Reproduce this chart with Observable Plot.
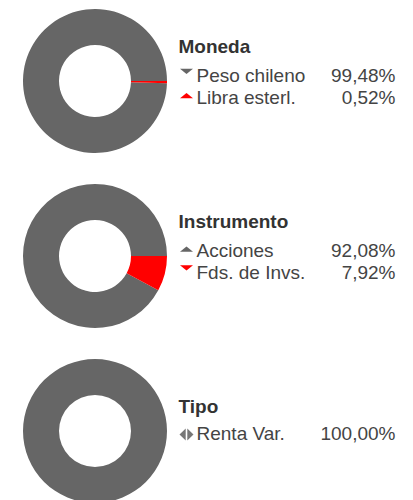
<!DOCTYPE html>
<html><head><meta charset="utf-8">
<script src="https://cdn.jsdelivr.net/npm/d3@7"></script>
<script src="https://cdn.jsdelivr.net/npm/@observablehq/plot@0.6"></script>
<style>body{margin:0;background:#fff}</style>
</head><body><div id="chart"></div>
<script>
// ---- data ----
const groups = ["Moneda", "Instrumento", "Tipo"];
const monedaLabels = ["Peso chileno", "Libra esterl."];
const monedaValues = [99.48, 0.52];
const monedaTrend = ["down", "up"];
const instrumentoLabels = ["Acciones", "Fds. de Invs."];
const instrumentoValues = [92.08, 7.92];
const instrumentoTrend = ["up", "down"];
const tipoLabels = ["Renta Var."];
const tipoValues = [100.00];
const tipoTrend = ["flat"];

const groupData = [
  [monedaLabels, monedaValues, monedaTrend],
  [instrumentoLabels, instrumentoValues, instrumentoTrend],
  [tipoLabels, tipoValues, tipoTrend]
];
const rows = [];
groupData.forEach(([labels, values, trend], gi) => {
  labels.forEach((label, k) => rows.push({group: groups[gi], gi, k, n: labels.length, label, value: values[k], trend: trend[k]}));
});
const titles = groups.map((g, gi) => ({group: g, gi, n: groupData[gi][0].length}));

// ---- layout ----
const W = 413, H = 500;
const centerY = gi => 81 + 175 * gi;
const cx = 95, rOuter = 72, rInner = 36;
const legendX = 178, valueX = 395, markerX = 186;
const rowBase = d => centerY(d.gi) + (d.n === 2 ? 0.7 + 21.6 * d.k : 8.8);
const titleBase = d => centerY(d.gi) + (d.n === 2 ? -28.5 : -18.3);
const markerY = d => rowBase(d) + (d.trend === "up" ? -8 : d.trend === "down" ? -11 : -5.8);

const fmt = v => v.toFixed(2).replace(".", ",") + "%";

// custom flat-triangle symbols
const symDown = {draw(c) { c.moveTo(-6.5, -2.5); c.lineTo(6.5, -2.5); c.lineTo(0, 2.8); c.closePath(); }};
const symUp = {draw(c) { c.moveTo(-6.5, 2.5); c.lineTo(6.5, 2.5); c.lineTo(0, -2.8); c.closePath(); }};
const symFlat = {draw(c) {
  c.moveTo(-0.8, -6); c.lineTo(-0.8, 6); c.lineTo(-7, 0); c.closePath();
  c.moveTo(0.8, -6); c.lineTo(0.8, 6); c.lineTo(7, 0); c.closePath();
}};

function donuts(index, scales) {
  const g = d3.create("svg:g");
  const x0 = scales.x(cx);
  const ro = scales.x(cx + rOuter) - x0, ri = scales.x(cx + rInner) - x0;
  const arc = d3.arc().innerRadius(ri).outerRadius(ro);
  const pie = d3.pie().sort(null).value(d => d.value).startAngle(2.5 * Math.PI).endAngle(0.5 * Math.PI);
  groups.forEach((grp, gi) => {
    const data = rows.filter(r => r.gi === gi);
    g.append("g").attr("transform", `translate(${x0},${scales.y(centerY(gi))})`)
      .selectAll("path").data(pie(data)).join("path")
      .attr("d", arc)
      .attr("fill", d => scales.color(d.data.k))
      .attr("stroke", "none");
  });
  return g.node();
}

const font = "Liberation Sans, Arial, Helvetica, sans-serif";
const chart = Plot.plot({
  width: W, height: H,
  margin: 0,
  style: {fontFamily: font, background: "#fff"},
  x: {type: "linear", domain: [0, W], range: [0, W], axis: null},
  y: {type: "linear", domain: [0, H], range: [0, H], axis: null},
  color: {type: "ordinal", domain: [0, 1], range: ["#666666", "#ff0000"]},
  marks: [
    donuts,
    Plot.text(titles, {x: () => legendX, y: titleBase, text: "group", textAnchor: "start", lineAnchor: "bottom", fontSize: 19, fontWeight: "bold", fill: "#333333"}),
    Plot.text(rows, {x: () => legendX + 18, y: rowBase, text: "label", textAnchor: "start", lineAnchor: "bottom", fontSize: 19, fill: "#444444"}),
    Plot.text(rows, {x: () => valueX, y: rowBase, text: d => fmt(d.value), textAnchor: "end", lineAnchor: "bottom", fontSize: 19, fill: "#444444"}),
    Plot.dot(rows.filter(d => d.trend === "down"), {x: () => markerX, y: markerY, symbol: symDown, fill: "k", stroke: null}),
    Plot.dot(rows.filter(d => d.trend === "up"), {x: () => markerX, y: markerY, symbol: symUp, fill: "k", stroke: null}),
    Plot.dot(rows.filter(d => d.trend === "flat"), {x: () => markerX, y: markerY, symbol: symFlat, fill: "#777777", stroke: null})
  ]
});
document.getElementById("chart").append(chart);
</script>
</body></html>
